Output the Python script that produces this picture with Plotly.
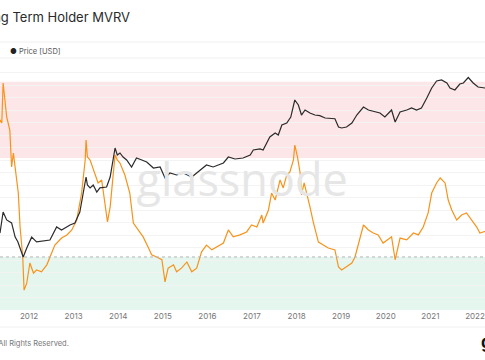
import plotly.graph_objects as go

# ---------------- data ----------------
price_years = [2011.30, 2011.35, 2011.42, 2011.50, 2011.61, 2011.69, 2011.75, 2011.84, 2011.87, 2011.95,
               2012.06, 2012.17, 2012.31, 2012.47, 2012.62, 2012.73, 2012.92, 2013.03, 2013.14, 2013.22,
               2013.28, 2013.31, 2013.37, 2013.44, 2013.52, 2013.59, 2013.74, 2013.82, 2013.89, 2013.93,
               2013.98, 2014.04, 2014.11, 2014.19, 2014.30, 2014.41, 2014.53, 2014.64, 2014.79, 2014.94,
               2015.05, 2015.16, 2015.31, 2015.46, 2015.65, 2015.83, 2015.98, 2016.13, 2016.36, 2016.47,
               2016.62, 2016.80, 2016.96, 2017.03, 2017.18, 2017.25, 2017.40, 2017.52, 2017.59, 2017.67,
               2017.78, 2017.87, 2017.96, 2018.04, 2018.11, 2018.19, 2018.30, 2018.41, 2018.52, 2018.64,
               2018.75, 2018.86, 2018.94, 2019.01, 2019.12, 2019.24, 2019.35, 2019.50, 2019.61, 2019.76,
               2019.87, 2019.98, 2020.13, 2020.21, 2020.32, 2020.47, 2020.58, 2020.69, 2020.80, 2020.92,
               2021.03, 2021.14, 2021.25, 2021.37, 2021.44, 2021.55, 2021.66, 2021.74, 2021.85, 2021.96,
               2022.07, 2022.22, 2022.30]
price_usd = [9.0, 7.4, 25.6, 16, 13.4, 5.8, 4.4, 2.4, 1.8, 3.05,
             5.8, 4.4, 4.7, 4.9, 10.6, 8.85, 11.9, 13.4, 25.6, 78.5,
             202, 126, 106, 126, 83, 106, 112, 202, 552, 1120,
             741, 834, 658, 552, 365, 621, 552, 490, 344, 365,
             190, 256, 228, 256, 202, 305, 410, 365, 462, 658,
             585, 621, 741, 995, 1057, 995, 2143, 2716, 2415, 4355,
             4900, 6980, 19055, 14190, 7850, 10570, 8850, 7850, 7600, 6580,
             6400, 6300, 3870, 3650, 3870, 4900, 7850, 12600, 10570, 9380,
             8850, 6980, 10570, 5200, 9380, 10570, 11880, 10570, 11880, 21440,
             38700, 58500, 62100, 52000, 38700, 34400, 49000, 52000, 72000, 52000,
             41000, 38700, 40000]

mvrv_years = [2011.30, 2011.35, 2011.39, 2011.42, 2011.46, 2011.50, 2011.57, 2011.61, 2011.65, 2011.69,
              2011.76, 2011.80, 2011.86, 2011.89, 2011.95, 2012.02, 2012.10, 2012.17, 2012.28, 2012.40,
              2012.47, 2012.58, 2012.73, 2012.85, 2012.96, 2013.07, 2013.18, 2013.26, 2013.28, 2013.31,
              2013.37, 2013.48, 2013.55, 2013.63, 2013.70, 2013.76, 2013.82, 2013.89, 2013.93, 2013.98,
              2014.04, 2014.15, 2014.26, 2014.34, 2014.45, 2014.56, 2014.67, 2014.75, 2014.86, 2014.98,
              2015.05, 2015.12, 2015.24, 2015.31, 2015.42, 2015.54, 2015.65, 2015.76, 2015.87, 2015.98,
              2016.10, 2016.21, 2016.36, 2016.47, 2016.58, 2016.73, 2016.88, 2016.99, 2017.11, 2017.22,
              2017.25, 2017.37, 2017.44, 2017.52, 2017.63, 2017.70, 2017.78, 2017.85, 2017.93, 2017.96,
              2018.02, 2018.08, 2018.11, 2018.17, 2018.23, 2018.30, 2018.38, 2018.49, 2018.60, 2018.71,
              2018.86, 2018.94, 2019.01, 2019.12, 2019.24, 2019.31, 2019.42, 2019.50, 2019.61, 2019.72,
              2019.83, 2019.94, 2020.13, 2020.21, 2020.32, 2020.47, 2020.62, 2020.73, 2020.84, 2020.95,
              2021.03, 2021.14, 2021.22, 2021.33, 2021.40, 2021.48, 2021.59, 2021.70, 2021.81, 2021.93,
              2022.04, 2022.11, 2022.22, 2022.30]
lth_mvrv = [16.0, 20.8, 19.4, 47.1, 32.3, 22.2, 16.6, 7.33, 10.0, 6.86,
            4.12, 1.94, 1.0, 0.48, 0.56, 0.875, 0.70, 0.75, 0.72, 0.84,
            1.0, 1.30, 1.52, 1.63, 1.82, 2.27, 4.12, 8.57, 13.3, 9.15,
            8.57, 6.42, 5.15, 5.5, 3.53, 2.17, 3.03, 6.42, 9.57, 8.57,
            8.01, 6.14, 4.12, 2.12, 1.82, 1.56, 1.25, 1.05, 1.0, 0.94,
            0.575, 0.78, 0.84, 0.72, 0.78, 0.895, 0.72, 0.78, 1.12, 1.30,
            1.17, 1.25, 1.36, 1.82, 1.56, 1.63, 1.74, 2.03, 1.94, 2.53,
            2.12, 2.83, 4.12, 3.53, 5.5, 4.61, 6.14, 6.57, 8.57, 11.9,
            9.15, 6.42, 3.95, 5.15, 4.12, 3.03, 2.12, 1.39, 1.30, 1.22,
            1.17, 0.80, 0.75, 0.80, 0.875, 1.0, 1.52, 2.03, 1.82, 1.70,
            1.63, 1.36, 1.56, 0.94, 1.52, 1.46, 1.70, 1.63, 1.94, 2.65,
            4.12, 5.15, 5.75, 5.15, 3.53, 2.83, 2.27, 2.53, 2.65, 2.27,
            1.94, 1.70, 1.74, 1.80]

year_ticks = [2012, 2013, 2014, 2015, 2016, 2017, 2018, 2019, 2020, 2021, 2022]
year_labels = [str(y) for y in year_ticks]

red_band = [8.95, 48.5]     # MVRV range of the red zone
green_band = [0.1, 1.0]     # MVRV range of the green zone

# ---------------- figure ----------------
W, H = 485, 360
fig = go.Figure()

# watermark behind the lines
fig.add_trace(go.Scatter(x=[2016.78], y=[125], xaxis="x", yaxis="y3", mode="text",
                         text=["glassnode"], textfont=dict(size=45, color="#e6e6e6", family="Open Sans"),
                         showlegend=False, hoverinfo="skip"))

fig.add_trace(go.Scatter(x=mvrv_years, y=lth_mvrv, yaxis="y", mode="lines", name="LTH-MVRV",
                         line=dict(color="#f7931a", width=1.2), showlegend=False))
fig.add_trace(go.Scatter(x=price_years, y=price_usd, yaxis="y2", mode="lines", name="Price [USD]",
                         line=dict(color="#2b2b2b", width=1.2), showlegend=False))

shapes = [
    dict(type="rect", xref="paper", yref="y", x0=0, x1=1, y0=red_band[0], y1=red_band[1],
         fillcolor="#fde6e7", line=dict(width=0), layer="below"),
    dict(type="rect", xref="paper", yref="y", x0=0, x1=1, y0=green_band[0], y1=green_band[1],
         fillcolor="#e5f6ef", line=dict(width=0), layer="below"),
    dict(type="line", xref="paper", yref="y", x0=0, x1=1, y0=green_band[1], y1=green_band[1],
         line=dict(color="#b5b5b5", width=1, dash="dot")),
    dict(type="line", xref="paper", yref="paper", x0=0, x1=1, y0=1 + 18 / 250, y1=1 + 18 / 250,
         line=dict(color="#f0f0f0", width=1)),
    dict(type="line", xref="paper", yref="paper", x0=0, x1=1, y0=1 + 2 / 250, y1=1 + 2 / 250,
         line=dict(color="#f0f0f0", width=1)),
    dict(type="line", xref="paper", yref="paper", x0=0, x1=1, y0=-17 / 250, y1=-17 / 250,
         line=dict(color="#f0f0f0", width=1)),
]

annotations = [
    dict(text="Long Term Holder MVRV", xref="paper", yref="paper", x=-24 / W, y=1 + 43 / 250,
         xanchor="left", yanchor="middle", showarrow=False,
         font=dict(size=13, color="#2a2a2a", family="Inter")),
    dict(text='<span style="color:#222">●</span> Price [USD]', xref="paper", yref="paper",
         x=8 / W, y=1 + 8 / 250, xanchor="left", yanchor="middle", showarrow=False,
         font=dict(size=7.5, color="#555", family="Inter")),
    dict(text="© 2022 Glassnode. All Rights Reserved.", xref="paper", yref="paper",
         x=71 / W, y=-33 / 250, xanchor="right", yanchor="middle", showarrow=False,
         font=dict(size=7.5, color="#777", family="Inter")),
    dict(text="<b>glassnode</b>", xref="paper", yref="paper", x=479 / W, y=-32 / 250,
         xanchor="left", yanchor="middle", showarrow=False,
         font=dict(size=17, color="#111", family="Inter")),
]

fig.update_layout(
    width=W, height=H,
    margin=dict(l=0, r=0, t=60, b=50),
    paper_bgcolor="white", plot_bgcolor="white",
    showlegend=False,
    xaxis=dict(range=[2011.35, 2022.225], tickvals=year_ticks, ticktext=year_labels,
               showgrid=False, zeroline=False, showline=False, ticks="",
               tickfont=dict(size=8, color="#777", family="Inter")),
    yaxis=dict(type="log", range=[-0.51, 1.894], visible=False, showgrid=False),
    yaxis2=dict(type="log", range=[-1.105, 5.306], overlaying="y", visible=False, showgrid=False),
    yaxis3=dict(range=[0, 250], overlaying="y", showgrid=True, gridcolor="#f3f3f3", gridwidth=1,
                dtick=12.5, showticklabels=False, zeroline=False, ticks=""),
    shapes=shapes,
    annotations=annotations,
)

fig.write_html("out.html", config={"displayModeBar": False},
               post_script="document.body.style.margin='0px';document.body.style.padding='0px';")
